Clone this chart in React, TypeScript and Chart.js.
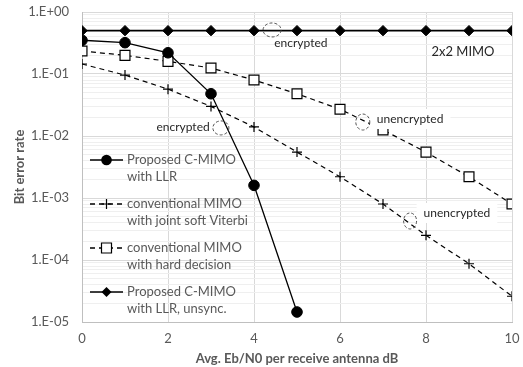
import React, { useEffect, useRef } from 'react';
import { Chart, registerables } from 'chart.js';
Chart.register(...registerables);

const snrDb = [0, 1, 2, 3, 4, 5, 6, 7, 8, 9, 10];
const llrBer = [0.35, 0.32, 0.22, 0.048, 0.0016, 1.45e-5];
const viterbiBer = [0.145, 0.096, 0.057, 0.03, 0.014, 0.0055, 0.0022, 0.0008, 0.00025, 8.7e-5, 2.6e-5];
const hardBer = [0.235, 0.2, 0.16, 0.125, 0.08, 0.048, 0.027, 0.0125, 0.0055, 0.0022, 0.0008];
const unsyncBer = [0.5, 0.5, 0.5, 0.5, 0.5, 0.5, 0.5, 0.5, 0.5, 0.5, 0.5];

const seriesLabels = [
  ['Proposed C-MIMO', 'with LLR'],
  ['conventional MIMO', 'with joint soft Viterbi'],
  ['conventional MIMO', 'with hard decision'],
  ['Proposed C-MIMO', 'with LLR, unsync.'],
];
const xTickValues = [0, 2, 4, 6, 8, 10];
const yTickLabels = ['1.E-05', '1.E-04', '1.E-03', '1.E-02', '1.E-01', '1.E+00'];

const noteTexts = [
  { text: 'encrypted', x: 5.09, y: 0.316, box: false },
  { text: '2x2 MIMO', x: 8.86, y: 0.226, box: false },
  { text: 'unencrypted', x: 7.63, y: 0.0188, box: true },
  { text: 'encrypted', x: 2.35, y: 0.014, box: false },
  { text: 'unencrypted', x: 8.72, y: 0.000573, box: true },
];
const noteEllipses = [
  { x: 4.42, y: 0.513, rx: 9, ry: 7 },
  { x: 6.53, y: 0.0168, rx: 7, ry: 8 },
  { x: 3.23, y: 0.0135, rx: 8, ry: 7 },
  { x: 7.63, y: 0.000426, rx: 6.5, ry: 8 },
];

const FONT = 'Lato';
const GREY = '#595959';

function drawMarker(ctx: CanvasRenderingContext2D, style: string, x: number, y: number) {
  ctx.save();
  ctx.setLineDash([]);
  ctx.strokeStyle = '#000';
  ctx.fillStyle = '#000';
  ctx.lineWidth = 1.2;
  ctx.beginPath();
  if (style === 'circle') {
    ctx.arc(x, y, 5.3, 0, Math.PI * 2);
    ctx.fill();
  } else if (style === 'cross') {
    ctx.moveTo(x - 5, y); ctx.lineTo(x + 5, y);
    ctx.moveTo(x, y - 5); ctx.lineTo(x, y + 5);
    ctx.stroke();
  } else if (style === 'rect') {
    ctx.fillStyle = '#fff';
    ctx.rect(x - 5, y - 5, 10, 10);
    ctx.fill(); ctx.stroke();
  } else {
    ctx.moveTo(x, y - 5); ctx.lineTo(x + 5, y); ctx.lineTo(x, y + 5); ctx.lineTo(x - 5, y); ctx.closePath();
    ctx.fill();
  }
  ctx.restore();
}

const overlayPlugin = {
  id: 'overlay',
  afterDatasetsDraw(chart: any) {
    const ctx: CanvasRenderingContext2D = chart.ctx;
    const xs = chart.scales.x;
    const ys = chart.scales.y;
    ctx.save();
    ctx.textAlign = 'center';
    ctx.textBaseline = 'middle';
    noteTexts.forEach((n) => {
      const px = xs.getPixelForValue(n.x);
      const py = ys.getPixelForValue(n.y);
      ctx.font = n.text === '2x2 MIMO' ? `13px ${FONT}` : `12px ${FONT}`;
      if (n.box) {
        const w = ctx.measureText(n.text).width + 14;
        ctx.fillStyle = '#fff';
        ctx.fillRect(px - w / 2, py - 10, w, 20);
      }
      ctx.fillStyle = '#262626';
      ctx.fillText(n.text, px, py);
    });
    ctx.strokeStyle = '#404040';
    ctx.lineWidth = 0.9;
    ctx.setLineDash([3, 2]);
    noteEllipses.forEach((e) => {
      ctx.beginPath();
      ctx.ellipse(xs.getPixelForValue(e.x), ys.getPixelForValue(e.y), e.rx, e.ry, 0, 0, Math.PI * 2);
      ctx.stroke();
    });
    ctx.restore();

    // legend
    const ds = chart.data.datasets;
    const left = chart.chartArea.left + 8;
    const top = chart.chartArea.top + 148;
    ctx.save();
    ds.forEach((d: any, i: number) => {
      const y = top + i * 44;
      ctx.strokeStyle = '#000';
      ctx.lineWidth = 1.3;
      ctx.setLineDash(d.borderDash || []);
      ctx.beginPath();
      ctx.moveTo(left, y);
      ctx.lineTo(left + 33, y);
      ctx.stroke();
      drawMarker(ctx, d.pointStyle, left + 16.5, y);
      ctx.fillStyle = GREY;
      ctx.font = `13px ${FONT}`;
      ctx.textAlign = 'left';
      ctx.textBaseline = 'middle';
      seriesLabels[i].forEach((t, j) => ctx.fillText(t, left + 37, y + j * 17));
    });
    ctx.restore();
  },
};

export default function App() {
  const ref = useRef<HTMLCanvasElement>(null);
  useEffect(() => {
    if (!ref.current) return;
    const pts = (arr: number[]) => arr.map((v, i) => ({ x: snrDb[i], y: v }));
    const chart = new Chart(ref.current, {
      type: 'line',
      data: {
        datasets: [
          { label: seriesLabels[0].join(' '), data: pts(llrBer), borderColor: '#000', backgroundColor: '#000', borderWidth: 1.3, pointStyle: 'circle', pointRadius: 5.3, pointBorderWidth: 1, pointBackgroundColor: '#000', pointBorderColor: '#000' },
          { label: seriesLabels[1].join(' '), data: pts(viterbiBer), borderColor: '#000', borderWidth: 1.2, borderDash: [5, 4], pointStyle: 'cross', pointRadius: 5, pointBorderWidth: 1.2, pointBorderColor: '#000' },
          { label: seriesLabels[2].join(' '), data: pts(hardBer), borderColor: '#000', borderWidth: 1.2, borderDash: [5, 4], pointStyle: 'rect', pointRadius: 7, pointBorderWidth: 1.2, pointBackgroundColor: '#fff', pointBorderColor: '#000' },
          { label: seriesLabels[3].join(' '), data: pts(unsyncBer), borderColor: '#000', borderWidth: 1.6, pointStyle: 'rectRot', pointRadius: 5.2, pointBorderWidth: 1, pointBackgroundColor: '#000', pointBorderColor: '#000' },
        ] as any,
      },
      options: {
        responsive: false,
        animation: false,
        layout: { padding: { top: 12, right: 11, bottom: 0, left: 0 } },
        plugins: { legend: { display: false }, tooltip: { enabled: false } },
        scales: {
          x: {
            type: 'linear',
            min: 0,
            max: 10,
            afterBuildTicks: (s: any) => { s.ticks = xTickValues.map((v) => ({ value: v })); },
            afterFit: (s: any) => { s.height = 45; s.paddingLeft = 0; s.paddingRight = 0; },
            grid: { color: '#d9d9d9', drawTicks: false, lineWidth: 1 },
            border: { color: '#bfbfbf' },
            ticks: { color: GREY, font: { family: FONT, size: 13 }, padding: 9, callback: (v: any) => String(v) },
            title: { display: true, text: 'Avg. Eb/N0 per receive antenna dB', color: GREY, font: { family: FONT, size: 13, weight: 'bold' }, padding: { top: 4, bottom: 0 } },
          },
          y: {
            type: 'logarithmic',
            min: 1e-5,
            max: 1,
            afterBuildTicks: (s: any) => {
              const t: any[] = [];
              for (let d = -5; d <= 0; d++) {
                for (let m = 1; m <= 9; m++) {
                  const v = m * Math.pow(10, d);
                  if (v <= 1.0000001) t.push({ value: v, major: m === 1 });
                }
              }
              s.ticks = t;
            },
            afterFit: (s: any) => { s.width = 82; s.paddingTop = 0; s.paddingBottom = 0; },
            grid: {
              drawTicks: false,
              color: (c: any) => (c.tick && c.tick.major ? '#d9d9d9' : '#efefef'),
            },
            border: { color: '#bfbfbf' },
            ticks: {
              color: GREY,
              font: { family: FONT, size: 13 },
              padding: 13,
              autoSkip: false,
              callback: function (v: any) {
                const e = Math.round(Math.log10(v));
                if (Math.abs(v - Math.pow(10, e)) > 1e-12 * Math.pow(10, e + 1)) return '';
                return yTickLabels[e + 5];
              },
            },
            title: { display: true, text: 'Bit error rate', color: GREY, font: { family: FONT, size: 13, weight: 'bold' }, padding: { top: 12, bottom: 0 } },
          },
        },
      } as any,
      plugins: [overlayPlugin],
    });
    return () => chart.destroy();
  }, []);
  return (
    <div style={{ position: 'absolute', left: 0, top: 0, width: 523, height: 367, background: '#fff' }}>
      <canvas ref={ref} width={523} height={367} />
    </div>
  );
}
